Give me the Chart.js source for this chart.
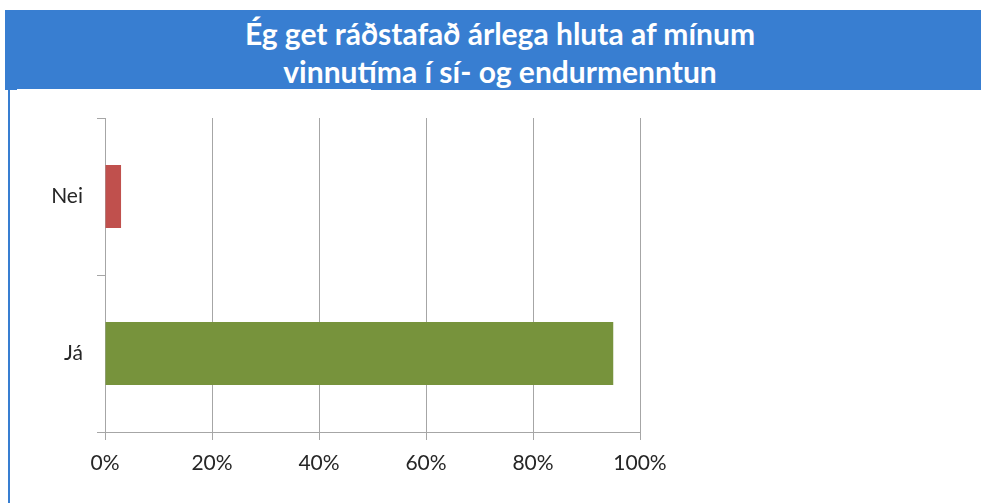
<!DOCTYPE html>
<html>
<head>
<meta charset="utf-8">
<script src="https://cdn.jsdelivr.net/npm/chart.js@4"></script>
<style>
  body { margin: 0; background: #fff; width: 981px; height: 503px; overflow: hidden; position: relative; }
  #head { position: absolute; left: 5px; top: 10px; width: 976px; height: 80px; background: #387ED1;
          color: #fff; font-family: Lato, sans-serif; font-weight: bold; font-size: 30px; text-align: center; }
  #head div { position: absolute; left: 0; width: 990px; line-height: 36px; }
  #gap { position: absolute; left: 17px; top: 89px; width: 354px; height: 1px; background: #fff; }
  #side { position: absolute; left: 8px; top: 90px; width: 2px; height: 413px; background: #387ED1; }
  #wrap { position: absolute; left: 0; top: 90px; width: 720px; height: 413px; }
</style>
</head>
<body>
<div id="head">
  <div style="top: 5px;">Ég get ráðstafað árlega hluta af mínum</div>
  <div style="top: 43px;">vinnutíma í sí- og endurmenntun</div>
</div>
<div id="gap"></div>
<div id="side"></div>
<div id="wrap"><canvas id="myChart"></canvas></div>
<script>
const categories = ['Nei', 'Já'];
const values = [0.03, 0.95];
const barColors = ['#C0504D', '#77933C'];
const xTicks = [0, 0.2, 0.4, 0.6, 0.8, 1];

const ctx = document.getElementById('myChart').getContext('2d');
const myChart = new Chart(ctx, {
    type: 'bar',
    data: {
        labels: categories,
        datasets: [{
            data: values,
            backgroundColor: barColors,
            borderWidth: 0,
            categoryPercentage: 1,
            barPercentage: 0.4
        }]
    },
    options: {
        indexAxis: 'y',
        responsive: true,
        maintainAspectRatio: false,
        animation: false,
        layout: { padding: { left: 0, right: 80, top: 28, bottom: 0 } },
        plugins: { legend: { display: false }, tooltip: { enabled: false } },
        scales: {
            x: {
                min: 0,
                max: 1,
                afterBuildTicks: s => { s.ticks = xTicks.map(v => ({ value: v })); },
                afterFit: s => { s.height = 71; },
                grid: { color: '#A6A6A6', tickLength: 8 },
                border: { color: '#A6A6A6' },
                ticks: {
                    padding: 11,
                    color: '#262626',
                    font: { family: 'Lato', size: 21 },
                    callback: v => Math.round(v * 100) + '%'
                }
            },
            y: {
                afterFit: s => { s.width = 105; },
                grid: { drawOnChartArea: false, color: '#A6A6A6', tickLength: 8, offset: true },
                border: { color: '#A6A6A6' },
                ticks: {
                    padding: 14,
                    color: '#262626',
                    font: { family: 'Lato', size: 21 }
                }
            }
        }
    }
});
</script>
</body>
</html>
